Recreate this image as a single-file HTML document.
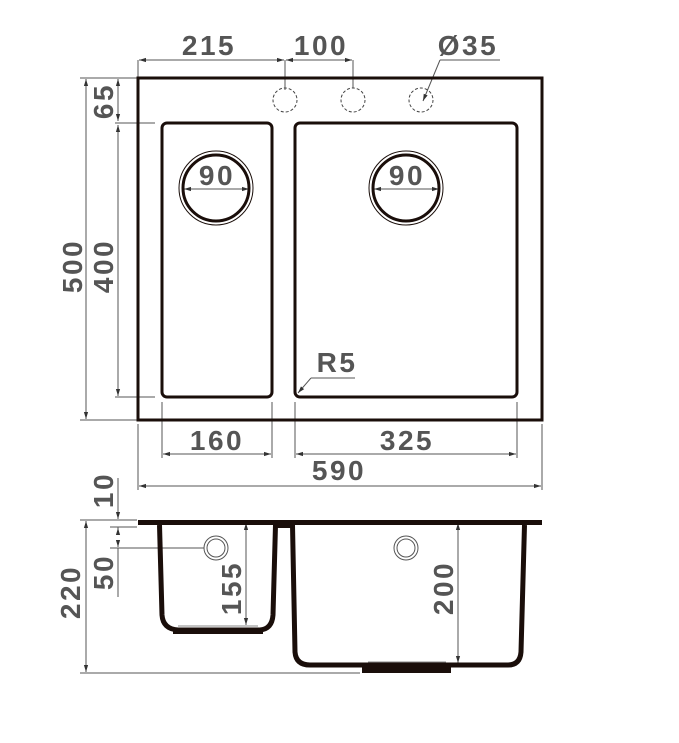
<!DOCTYPE html>
<html><head><style>
html,body{margin:0;padding:0;background:#fff;}
svg{display:block;}
text{font-family:"Liberation Sans",Arial,sans-serif;font-weight:bold;font-size:28px;fill:#555;text-anchor:middle;letter-spacing:2.5px;}
</style></head><body>
<svg width="679" height="743" viewBox="0 0 679 743" xmlns="http://www.w3.org/2000/svg">
<defs>
<marker id="a" viewBox="0 0 10 10" refX="10" refY="5" markerWidth="7" markerHeight="7" orient="auto-start-reverse"><path d="M0,2 L10,5 L0,8 z" fill="#333"/></marker>
</defs>
<g stroke="#555" stroke-width="1" fill="none">
<line x1="138" y1="60" x2="138" y2="78"/>
<line x1="285" y1="60" x2="285" y2="90"/>
<line x1="353" y1="60" x2="353" y2="88"/>
<line x1="139" y1="60" x2="284" y2="60" marker-start="url(#a)" marker-end="url(#a)"/>
<line x1="286" y1="60" x2="352" y2="60" marker-start="url(#a)" marker-end="url(#a)"/>
<line x1="440" y1="60" x2="500" y2="60"/>
<line x1="440" y1="60" x2="423" y2="101" marker-end="url(#a)"/>
<line x1="80" y1="78" x2="137" y2="78"/>
<line x1="80" y1="420" x2="137" y2="420"/>
<line x1="115" y1="123" x2="155" y2="123"/>
<line x1="115" y1="397" x2="155" y2="397"/>
<line x1="86" y1="79" x2="86" y2="419" marker-start="url(#a)" marker-end="url(#a)"/>
<line x1="118" y1="79" x2="118" y2="121" marker-start="url(#a)" marker-end="url(#a)"/>
<line x1="118" y1="125" x2="118" y2="396" marker-start="url(#a)" marker-end="url(#a)"/>
<line x1="138" y1="424" x2="138" y2="490"/>
<line x1="542" y1="424" x2="542" y2="490"/>
<line x1="162" y1="402" x2="162" y2="458"/>
<line x1="272" y1="402" x2="272" y2="458"/>
<line x1="295" y1="402" x2="295" y2="458"/>
<line x1="517" y1="402" x2="517" y2="458"/>
<line x1="163" y1="454" x2="271" y2="454" marker-start="url(#a)" marker-end="url(#a)"/>
<line x1="296" y1="454" x2="516" y2="454" marker-start="url(#a)" marker-end="url(#a)"/>
<line x1="139" y1="486" x2="541" y2="486" marker-start="url(#a)" marker-end="url(#a)"/>
<line x1="355" y1="378" x2="311" y2="378"/>
<line x1="311" y1="378" x2="298" y2="393" marker-end="url(#a)"/>
<line x1="184" y1="189" x2="249" y2="189" marker-start="url(#a)" marker-end="url(#a)"/>
<line x1="374" y1="189" x2="439" y2="189" marker-start="url(#a)" marker-end="url(#a)"/>
<line x1="80" y1="520" x2="137" y2="520"/>
<line x1="80" y1="673" x2="360" y2="673"/>
<line x1="110" y1="527" x2="137" y2="527"/>
<line x1="110" y1="548" x2="204" y2="548"/>
<line x1="86" y1="521" x2="86" y2="672" marker-start="url(#a)" marker-end="url(#a)"/>
<line x1="118" y1="478" x2="118" y2="519" marker-end="url(#a)"/>
<line x1="118" y1="527" x2="118" y2="535"/>
<line x1="118" y1="548" x2="118" y2="597"/>
<line x1="118" y1="535" x2="118" y2="528" marker-end="url(#a)"/>
<line x1="118" y1="540" x2="118" y2="547" marker-end="url(#a)"/>
<line x1="246" y1="523" x2="246" y2="625" marker-start="url(#a)" marker-end="url(#a)"/>
<line x1="458" y1="523" x2="458" y2="663" marker-start="url(#a)" marker-end="url(#a)"/>
</g>
<g fill="none" stroke="#1a0e0a">
<rect x="138" y="78" width="404" height="342" stroke-width="3"/>
<rect x="162" y="123" width="110" height="274" rx="5" stroke-width="3"/>
<rect x="295" y="123" width="222" height="274" rx="5" stroke-width="3"/>
<circle cx="216" cy="188" r="37" stroke-width="1"/>
<circle cx="216" cy="188" r="33" stroke-width="3"/>
<circle cx="406" cy="188" r="37" stroke-width="1"/>
<circle cx="406" cy="188" r="33" stroke-width="3"/>
<g stroke="#444" stroke-width="1" stroke-dasharray="3,2">
<circle cx="285" cy="100" r="12"/>
<circle cx="353" cy="100" r="12"/>
<circle cx="421" cy="100" r="12"/>
</g>
</g>
<g fill="none" stroke="#1a0e0a">
<rect x="138" y="520" width="404" height="5" fill="#1a0e0a" stroke="none"/>
<rect x="276" y="520" width="18" height="8" fill="#1a0e0a" stroke="none"/>
<path d="M159.5,525 L162,615 Q163,629 178,630 L260,630 Q272,629 273,615 L275.5,525" stroke-width="5"/>
<rect x="173" y="628" width="90" height="6" fill="#1a0e0a" stroke="none"/>
<line x1="178" y1="626" x2="258" y2="626" stroke="#888" stroke-width="1"/>
<path d="M292.5,525 L295,652 Q296,665 310,665 L508,665 Q520,665 521,652 L524.5,525" stroke-width="5"/>
<rect x="362" y="667" width="89" height="6" fill="#1a0e0a" stroke="none"/>
<line x1="368" y1="662" x2="446" y2="662" stroke="#888" stroke-width="1"/>
<circle cx="216" cy="548" r="12" stroke="#555" stroke-width="1"/>
<circle cx="216" cy="548" r="9" stroke="#555" stroke-width="1"/>
<circle cx="406" cy="548" r="12" stroke="#555" stroke-width="1"/>
<circle cx="406" cy="548" r="9" stroke="#555" stroke-width="1"/>
</g>
<text x="209" y="55">215</text>
<text x="321" y="55">100</text>
<text x="468" y="55">Ø35</text>
<text x="217" y="185">90</text>
<text x="407" y="185">90</text>
<text x="337" y="372">R5</text>
<text x="217" y="450">160</text>
<text x="407" y="450">325</text>
<text x="339" y="480">590</text>
<text transform="translate(82,266) rotate(-90)">500</text>
<text transform="translate(113,266) rotate(-90)">400</text>
<text transform="translate(113,101) rotate(-90)">65</text>
<text transform="translate(113,490) rotate(-90)">10</text>
<text transform="translate(113,572) rotate(-90)">50</text>
<text transform="translate(80,592) rotate(-90)">220</text>
<text transform="translate(241,588) rotate(-90)">155</text>
<text transform="translate(453,588) rotate(-90)">200</text>
</svg>
</body></html>
